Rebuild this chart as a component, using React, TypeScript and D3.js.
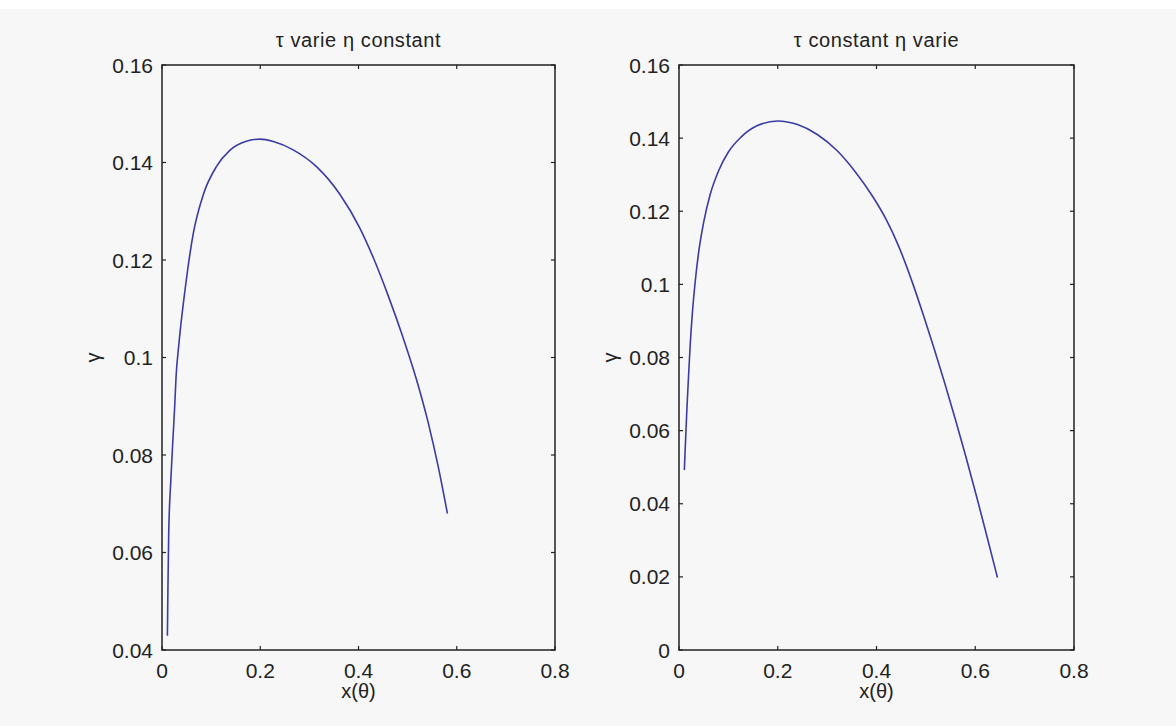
import * as d3 from "d3";
import React, { useRef, useEffect } from "react";

// values
const leftX = [0.011, 0.012, 0.0136, 0.018, 0.0224, 0.026, 0.0285, 0.0346, 0.0468, 0.0638, 0.084, 0.111, 0.138, 0.17, 0.2, 0.2266, 0.267, 0.315, 0.362, 0.403, 0.43, 0.46, 0.49, 0.518, 0.542, 0.5625, 0.581];
const leftY = [0.0429, 0.052, 0.0636, 0.0749, 0.0835, 0.0903, 0.0958, 0.103, 0.1138, 0.1255, 0.1334, 0.1392, 0.1425, 0.1443, 0.1448, 0.1443, 0.1426, 0.1391, 0.1335, 0.1265, 0.1205, 0.1128, 0.1043, 0.0955, 0.0866, 0.0775, 0.068];

const rightX = [0.0108, 0.0135, 0.016, 0.019, 0.0225, 0.027, 0.033, 0.04, 0.05, 0.063, 0.08, 0.1, 0.125, 0.16, 0.2, 0.24, 0.28, 0.32, 0.358, 0.392, 0.419, 0.445, 0.474, 0.4954, 0.5168, 0.5381, 0.5595, 0.5809, 0.6023, 0.6236, 0.645];
const rightY = [0.0492, 0.058, 0.066, 0.074, 0.083, 0.092, 0.101, 0.109, 0.117, 0.1245, 0.131, 0.1362, 0.1402, 0.1435, 0.1447, 0.1437, 0.141, 0.1366, 0.1306, 0.1241, 0.1179, 0.1104, 0.1, 0.0914, 0.0824, 0.073, 0.0632, 0.0529, 0.0422, 0.0311, 0.0198];

const xTicks = [0, 0.2, 0.4, 0.6, 0.8];
const leftYTicks = [0.04, 0.06, 0.08, 0.1, 0.12, 0.14, 0.16];
const rightYTicks = [0, 0.02, 0.04, 0.06, 0.08, 0.1, 0.12, 0.14, 0.16];

const titles = ["\u03c4 varie \u03b7 constant", "\u03c4 constant \u03b7 varie"];
const xLabel = "x(\u03b8)";
const yLabel = "\u03b3";

const W = 1176;
const H = 726;

function App() {
  const ref = useRef(null);

  useEffect(() => {
    const svg = d3.select(ref.current);
    svg.selectAll("*").remove();

    svg.append("rect").attr("width", W).attr("height", H).attr("fill", "#f7f7f7");
    svg.append("rect").attr("width", W).attr("height", 9).attr("fill", "#ffffff");

    const panels = [
      { left: 162, right: 555, xs: leftX, ys: leftY, yTicks: leftYTicks, title: titles[0] },
      { left: 679, right: 1074, xs: rightX, ys: rightY, yTicks: rightYTicks, title: titles[1] },
    ];
    const top = 65;
    const bottom = 650;
    const font = "'Liberation Sans', Arial, sans-serif";
    const fmt = (v) => String(+v.toFixed(2));

    panels.forEach((p) => {
      const x = d3.scaleLinear().domain([0, 0.8]).range([p.left, p.right]);
      const y = d3
        .scaleLinear()
        .domain([p.yTicks[0], p.yTicks[p.yTicks.length - 1]])
        .range([bottom, top]);

      const g = svg.append("g");

      // ticks inward on all four sides
      xTicks.forEach((t) => {
        g.append("line").attr("x1", x(t)).attr("x2", x(t)).attr("y1", bottom).attr("y2", bottom - 4)
          .attr("stroke", "#222").attr("stroke-width", 1.2);
        g.append("line").attr("x1", x(t)).attr("x2", x(t)).attr("y1", top).attr("y2", top + 4)
          .attr("stroke", "#222").attr("stroke-width", 1.2);
        g.append("text").attr("x", x(t)).attr("y", bottom + 28).attr("text-anchor", "middle")
          .attr("font-family", font).attr("font-size", 21).attr("fill", "#222").text(fmt(t));
      });
      p.yTicks.forEach((t) => {
        g.append("line").attr("x1", p.left).attr("x2", p.left + 4).attr("y1", y(t)).attr("y2", y(t))
          .attr("stroke", "#222").attr("stroke-width", 1.2);
        g.append("line").attr("x1", p.right).attr("x2", p.right - 4).attr("y1", y(t)).attr("y2", y(t))
          .attr("stroke", "#222").attr("stroke-width", 1.2);
        g.append("text").attr("x", p.left - 9).attr("y", y(t) + 7.5).attr("text-anchor", "end")
          .attr("font-family", font).attr("font-size", 21).attr("fill", "#222").text(fmt(t));
      });

      g.append("rect").attr("x", p.left).attr("y", top).attr("width", p.right - p.left)
        .attr("height", bottom - top).attr("fill", "none").attr("stroke", "#222").attr("stroke-width", 1.5);

      const line = d3
        .line()
        .x((d) => x(d[0]))
        .y((d) => y(d[1]))
        .curve(d3.curveMonotoneX);
      g.append("path")
        .datum(p.xs.map((v, i) => [v, p.ys[i]]))
        .attr("d", line)
        .attr("fill", "none")
        .attr("stroke", "#3b3ba6")
        .attr("stroke-width", 1.6);

      const cx = (p.left + p.right) / 2;
      g.append("text").attr("x", cx).attr("y", 47).attr("text-anchor", "middle")
        .attr("font-family", font).attr("font-size", 20).attr("letter-spacing", 0.6)
        .attr("fill", "#222").text(p.title);
      g.append("text").attr("x", cx).attr("y", 698).attr("text-anchor", "middle")
        .attr("font-family", font).attr("font-size", 20).attr("fill", "#222").text(xLabel);
      g.append("text")
        .attr("transform", `translate(${p.left - 62},${(top + bottom) / 2}) rotate(-90)`)
        .attr("text-anchor", "middle")
        .attr("font-family", font).attr("font-size", 20).attr("fill", "#222").text(yLabel);
    });
  }, []);

  return (
    <div style={{ position: "absolute", left: 0, top: 0 }}>
      <svg ref={ref} width={W} height={H} style={{ display: "block" }}></svg>
    </div>
  );
}

export default App;
